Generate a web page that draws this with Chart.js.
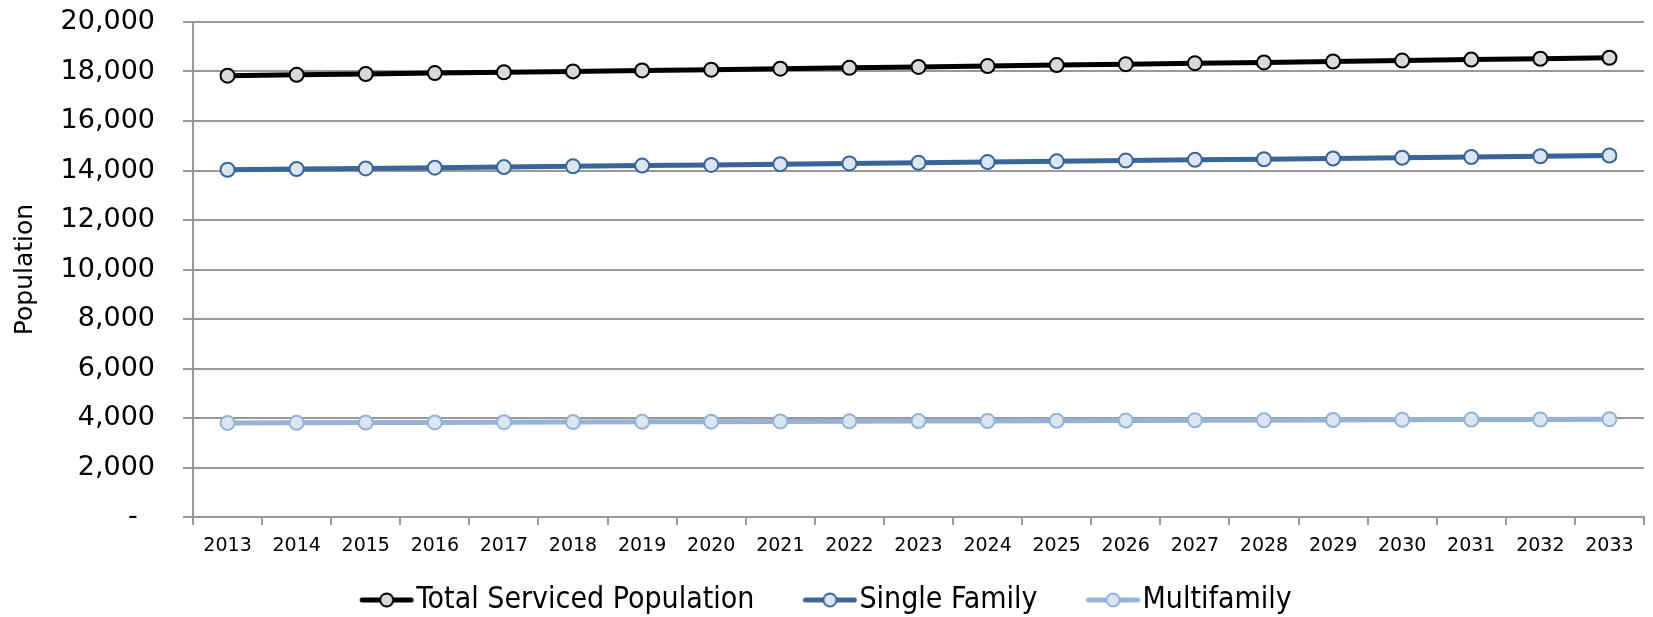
<!DOCTYPE html>
<html>
<head>
    <title>Serviced Population</title>
    <script src="https://cdn.jsdelivr.net/npm/chart.js"></script>
    <style>
        body { margin: 0; background: #fff; }
        #wrap { width: 1653px; height: 617px; }
    </style>
</head>
<body>
    <div id="wrap"><canvas id="Chart" width="1653" height="617"></canvas></div>
    <script>
        // data
        const years = ['2013','2014','2015','2016','2017','2018','2019','2020','2021','2022','2023',
                       '2024','2025','2026','2027','2028','2029','2030','2031','2032','2033'];
        const totalPop = [17830, 17865, 17900, 17935, 17970, 18005, 18045, 18075, 18115, 18150, 18185,
                          18220, 18260, 18295, 18335, 18365, 18405, 18440, 18480, 18515, 18555];
        const singleFamily = [14030, 14060, 14085, 14115, 14140, 14170, 14200, 14225, 14255, 14285, 14310,
                              14340, 14370, 14400, 14430, 14455, 14485, 14515, 14545, 14575, 14605];
        const multiFamily = [3800, 3805, 3815, 3820, 3830, 3835, 3845, 3850, 3860, 3865, 3875,
                             3880, 3890, 3895, 3905, 3910, 3920, 3925, 3935, 3940, 3950];

        const FONT = "'DejaVu Sans', sans-serif";

        // legend swatch: line with a circle in the middle, drawn at the right end of
        // the image so it sits right next to the legend text
        function swatch(line, fill, border) {
            const c = document.createElement('canvas');
            c.width = 100; c.height = 18;
            const g = c.getContext('2d');
            const x0 = 45;
            g.strokeStyle = line; g.lineWidth = 5; g.lineCap = 'round';
            g.beginPath(); g.moveTo(x0 + 3, 9); g.lineTo(x0 + 52, 9); g.stroke();
            g.fillStyle = fill; g.strokeStyle = border; g.lineWidth = 2;
            g.beginPath(); g.arc(x0 + 27.5, 9, 6.5, 0, Math.PI * 2); g.fill(); g.stroke();
            return c;
        }

        function series(label, data, line, fill, border) {
            return {
                label: label,
                data: data,
                borderColor: line,
                borderWidth: 5,
                pointRadius: 7,
                pointHoverRadius: 7,
                pointBackgroundColor: fill,
                pointBorderColor: border,
                pointBorderWidth: 2,
                pointStyle: 'circle',
                legendStyle: swatch(line, fill, border),
                fill: false,
                tension: 0
            };
        }

        const datasets = [
            series('Total Serviced Population', totalPop, '#000000', '#d9d9d9', '#000000'),
            series('Single Family', singleFamily, '#3a6598', '#dce6f2', '#3a6598'),
            series('Multifamily', multiFamily, '#95b3d7', '#dce6f2', '#95b3d7')
        ];

        // the empty lead of the first legend item pushes the legend right, pull it back
        const legendShift = {
            id: 'legendShift',
            afterLayout(c) {
                c.legend.left -= 13;
                c.legend.right -= 13;
            }
        };

        var ctx = document.getElementById('Chart').getContext('2d');
        var chart = new Chart(ctx, {
            type: 'line',
            data: { labels: years, datasets: datasets },
            plugins: [legendShift],
            options: {
                responsive: false,
                animation: false,
                layout: { padding: { top: 22, right: 8, bottom: -8, left: 0 } },
                plugins: {
                    tooltip: { enabled: false },
                    legend: {
                        position: 'bottom',
                        labels: {
                            usePointStyle: true,
                            pointStyleWidth: 74,
                            boxHeight: 18,
                            padding: 16,
                            color: '#000',
                            font: { family: "'DejaVu Sans Condensed', 'DejaVu Sans', sans-serif", size: 30 },
                            generateLabels: function(c) {
                                return c.data.datasets.map((d, i) => ({
                                    text: d.label,
                                    pointStyle: d.legendStyle,
                                    fillStyle: d.pointBackgroundColor,
                                    strokeStyle: d.borderColor,
                                    lineWidth: 0,
                                    fontColor: '#000',
                                    hidden: false,
                                    datasetIndex: i
                                }));
                            }
                        }
                    }
                },
                scales: {
                    x: {
                        offset: true,
                        grid: { offset: true, drawOnChartArea: false, drawTicks: true, tickLength: 8, color: '#999', lineWidth: 2 },
                        border: { color: '#999', width: 2 },
                        ticks: { color: '#000', padding: 10, maxRotation: 0, autoSkip: false, font: { family: FONT, size: 19 } },
                        afterFit: s => { s.height = 52; }
                    },
                    y: {
                        min: 0,
                        max: 20000,
                        grid: { color: '#999', lineWidth: 2, tickLength: 10 },
                        border: { color: '#999', width: 2 },
                        ticks: {
                            stepSize: 2000,
                            color: '#000',
                            padding: 28,
                            font: { family: FONT, size: 27 },
                            callback: v => v === 0 ? '-  ' : v.toLocaleString('en-US')
                        },
                        title: {
                            display: true,
                            text: 'Population',
                            color: '#000',
                            padding: { top: 10, bottom: 0 },
                            font: { family: FONT, size: 25 }
                        },
                        afterFit: s => {
                            s.width = 193;
                            s.paddingTop = 0;
                            s.paddingBottom = 0;
                        }
                    }
                }
            }
        });
    </script>
</body>
</html>
